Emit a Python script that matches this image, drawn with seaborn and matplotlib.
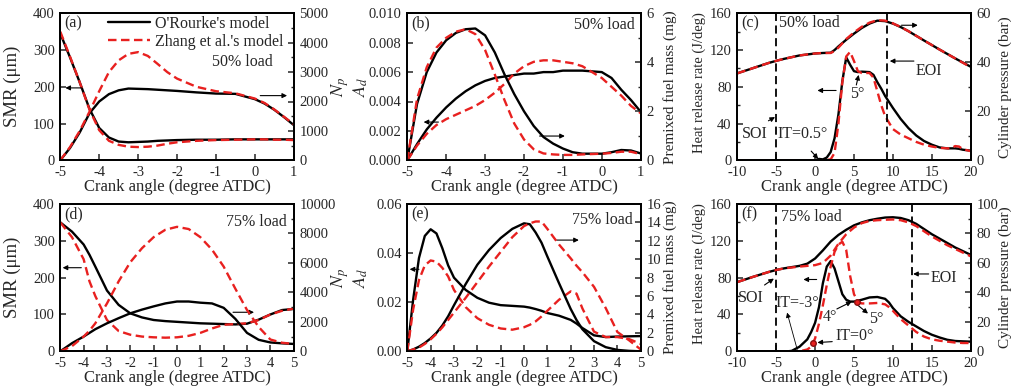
import matplotlib
matplotlib.use("Agg")
import matplotlib.pyplot as plt
import seaborn as sns
from matplotlib.ticker import MultipleLocator, FormatStrFormatter

# ---------------- data ----------------
MODELS = ["O'Rourke's model", "Zhang et al.'s model"]
XLABEL = "Crank angle (degree ATDC)"

# (a) 50% load: SMR (left) and N_p (right)
a_x = [-5, -4.75, -4.5, -4.25, -4, -3.75, -3.5, -3.25, -3, -2.75, -2.5, -2.25, -2,
       -1.5, -1, -0.5, 0, 0.25, 0.5, 0.75, 1]
a_smr_or = [345, 280, 212, 140, 88, 62, 51, 49, 50, 51, 53, 54, 55, 56, 56, 57, 57, 57, 57, 57, 57]
a_smr_zh = [350, 282, 212, 138, 82, 53, 42, 37, 36, 37, 40, 45, 49, 53, 55, 56, 57, 57, 56, 56, 55]
a_np_or = [0, 420, 950, 1600, 2000, 2250, 2380, 2440, 2430, 2420, 2400, 2380, 2360,
           2310, 2270, 2260, 2080, 1930, 1720, 1470, 1200]
a_np_zh = [0, 450, 1000, 1650, 2350, 3000, 3400, 3620, 3680, 3550, 3280, 3000, 2780,
           2500, 2350, 2280, 2100, 1950, 1730, 1480, 1230]

# (b) 50% load: A_d (left) and premixed fuel mass (right)
b_x = [-5, -4.75, -4.5, -4.25, -4, -3.75, -3.5, -3.25, -3, -2.75, -2.5, -2.25, -2,
       -1.75, -1.5, -1.25, -1, -0.75, -0.5, 0, 0.25, 0.5, 0.75, 1]
b_ad_or = [0, 0.0011, 0.0021, 0.0029, 0.0036, 0.0042, 0.0047, 0.0051, 0.0054, 0.0056, 0.0057,
           0.0058, 0.0059, 0.0059, 0.0060, 0.0060, 0.0061, 0.0061, 0.0061, 0.0060, 0.0056,
           0.0048, 0.0041, 0.0033]
b_ad_zh = [0, 0.0010, 0.0018, 0.0024, 0.0028, 0.0031, 0.0034, 0.0037, 0.0041, 0.0046, 0.0052,
           0.0059, 0.0064, 0.0067, 0.0068, 0.0068, 0.0067, 0.0066, 0.0064, 0.0056, 0.0050,
           0.0044, 0.0037, 0.0032]
b_mass_or = [0, 2.3, 3.6, 4.4, 4.9, 5.2, 5.35, 5.38, 5.1, 4.4, 3.5, 2.7, 2.0, 1.4, 0.95,
             0.68, 0.48, 0.33, 0.27, 0.27, 0.33, 0.42, 0.40, 0.28]
b_mass_zh = [0, 2.5, 3.8, 4.6, 5.0, 5.25, 5.35, 5.15, 4.5, 3.5, 2.45, 1.5, 0.85, 0.45, 0.28,
             0.24, 0.22, 0.22, 0.24, 0.27, 0.30, 0.35, 0.35, 0.25]

# (c) 50% load: heat release rate (left) and cylinder pressure (right)
c_xp = [-10, -8, -6, -5, -4, -2, 0, 1, 2, 2.5, 3, 4, 5, 6, 7, 8, 9, 10, 11, 12, 14, 16, 18, 20]
c_p_or = [35.5, 37.6, 39.7, 40.6, 41.4, 42.8, 43.6, 43.8, 43.9, 45.0, 46.5, 49.2, 51.7, 54.0,
          55.8, 57.0, 56.8, 55.8, 54.4, 52.7, 48.9, 45.2, 41.6, 38.2]
c_p_zh = [35.5, 37.6, 39.7, 40.6, 41.4, 42.8, 43.6, 43.8, 43.8, 44.6, 46.0, 49.5, 52.2, 54.5,
          56.2, 57.2, 57.0, 55.9, 54.4, 52.7, 48.9, 45.2, 41.6, 38.0]
c_xh = [-10, -2, 0, 0.5, 1, 1.5, 2, 2.5, 3, 3.5, 4, 4.5, 5, 5.5, 6, 7, 7.5, 8, 8.5, 9, 10,
        11, 12, 13, 14, 15, 16, 17, 17.5, 18, 18.5, 19, 20]
c_hrr_or = [0, 0, 0, 1.5, 1, 3, 9, 24, 50, 86, 112, 104, 97, 96, 96.5, 96, 93, 85, 78, 70, 57,
            45, 35, 27, 21, 17, 14, 13, 13, 13, 12.5, 11.5, 10.5]
c_hrr_zh = [0, 0, 0, 0, 0, 0.5, 1, 8, 40, 85, 113, 118, 108, 97, 95, 95, 90, 75, 60, 48, 34,
            28, 24, 20, 17, 15, 13.5, 13, 13, 15.5, 15, 12, 10]
c_soi, c_eoi = -5, 9.3

# (d) 75% load: SMR (left) and N_p (right)
d_x = [-5, -4.5, -4, -3.75, -3.5, -3, -2.5, -2, -1.5, -1, -0.5, 0, 0.5, 1, 1.5, 2, 2.5, 3,
       3.5, 4, 4.5, 5]
d_smr_or = [350, 325, 290, 262, 230, 165, 126, 103, 92, 85, 82, 80, 78, 76, 75, 74, 73, 75,
            86, 100, 112, 115]
d_smr_zh = [350, 310, 250, 190, 150, 85, 55, 45, 40, 38, 37, 38, 42, 50, 62, 72, 74, 76, 85,
            100, 110, 116]
d_np_or = [0, 550, 1000, 1250, 1500, 1900, 2250, 2580, 2830, 3050, 3250, 3380, 3380, 3300,
           3250, 2950, 2200, 1250, 780, 600, 540, 500]
d_np_zh = [0, 350, 1000, 1400, 1900, 3250, 4750, 6050, 7000, 7750, 8250, 8450, 8300, 7750,
           6900, 5750, 4250, 2800, 1650, 800, 580, 500]

# (e) 75% load: A_d (left) and premixed fuel mass (right)
e_x = [-5, -4.75, -4.5, -4.25, -4, -3.75, -3.5, -3.25, -3, -2.5, -2, -1.5, -1, -0.5, 0, 0.25,
       0.5, 0.75, 1, 1.5, 2, 2.25, 2.5, 3, 3.5, 4, 4.5, 5]
e_ad_or = [0, 0.021, 0.038, 0.047, 0.0497, 0.048, 0.042, 0.035, 0.030, 0.025, 0.0218, 0.0198,
           0.0188, 0.0185, 0.0182, 0.0178, 0.0172, 0.0165, 0.0156, 0.0145, 0.0128, 0.0113,
           0.0095, 0.0065, 0.0058, 0.0060, 0.0061, 0.0062]
e_ad_zh = [0, 0.017, 0.029, 0.035, 0.037, 0.0365, 0.034, 0.0305, 0.025, 0.018, 0.0135, 0.0108,
           0.0093, 0.0088, 0.0098, 0.0108, 0.0122, 0.0142, 0.0165, 0.021, 0.0244, 0.0235,
           0.0175, 0.008, 0.0058, 0.0058, 0.005, 0.003]
e_mass_or = [0, 0.2, 0.5, 0.9, 1.4, 2.0, 2.8, 3.8, 5.0, 7.3, 9.4, 11.0, 12.3, 13.3, 13.9, 13.8,
             12.9, 11.8, 10.3, 7.4, 4.6, 3.4, 2.4, 1.1, 0.45, 0.15, 0.05, 0]
e_mass_zh = [0, 0.2, 0.4, 0.8, 1.3, 1.9, 2.6, 3.4, 4.2, 5.8, 7.5, 9.2, 10.8, 12.4, 13.6, 13.9,
             14.1, 14.1, 13.3, 11.6, 10.1, 9.3, 8.6, 7.0, 4.7, 2.1, 1.2, 0.2]

# (f) 75% load: heat release rate (left) and cylinder pressure (right)
f_xp = [-10, -8, -6, -5, -4, -2, -1, 0, 1, 2, 3, 4, 5, 6, 7, 8, 9, 10, 11, 12, 13, 14, 15,
        16, 17, 18, 19, 20]
f_p_or = [47, 50.5, 53.8, 55.2, 56.3, 58, 59.5, 63, 68.5, 74.5, 79, 82.5, 85.5, 87.5, 89, 90,
          90.8, 91, 90.5, 89, 86.5, 83, 79.5, 76.5, 73.5, 70.5, 68, 65.5]
f_p_zh = [47, 50.5, 53.8, 55.2, 56.3, 57.5, 58, 58.5, 60, 65, 73, 79.5, 84, 87, 88.5, 89, 89.3,
          89.5, 89, 87.5, 85, 81.5, 78, 75, 72, 69.5, 67, 64.5]
f_xh = [-10, -3.5, -3, -2, -1, -0.5, 0, 0.5, 1, 1.5, 2, 2.5, 3, 3.5, 4, 4.5, 5, 5.5, 6, 7, 8,
        9, 9.5, 10, 11, 12, 13, 14, 15, 16, 17, 18, 19, 20]
f_hrr_or = [0, 0, 0.5, 5, 13, 21, 31, 48, 74, 92, 98, 90, 76, 62, 56, 54, 54, 55, 56, 58.5, 59,
            57, 53, 47, 38, 32, 27, 22, 18, 15, 12.5, 11.2, 10.8, 10.5]
f_hrr_zh = [0, 0, 0, 0, 2, 5, 14, 30, 50, 72, 92, 108, 116, 119, 110, 82, 62, 54, 52, 52, 52.5,
            51, 48, 44, 35, 28, 21, 16, 13, 11.5, 10.5, 9.5, 9, 9]
f_soi, f_eoi = -5, 12.4
f_marker_x = [-0.3, 5.35]
f_marker_y = [9, 54]

# ---------------- style ----------------
sns.set_theme(style="ticks")
plt.rcParams["font.family"] = ["Liberation Serif", "DejaVu Serif"]
plt.rcParams["mathtext.fontset"] = "stix"
plt.rcParams["axes.unicode_minus"] = False
plt.rcParams["axes.linewidth"] = 1.3
plt.rcParams["xtick.direction"] = "in"
plt.rcParams["ytick.direction"] = "in"

BLACK = "black"
RED = "#e8201f"
LW = 1.7
TICK_FS = 10.5
XLABEL_FS = 12
TXT_FS = 11.5

fig = plt.figure(figsize=(10.11, 3.90), dpi=100)
W, H = 1011.0, 390.0
COLS = [60.3, 407.3, 737.3]
AW = 233.4
ROWS = [(13.3, 160.3), (204.0, 351.3)]


def make_axes(col, row):
    left = COLS[col]
    top, bottom = ROWS[row]
    ax = fig.add_axes([left / W, 1 - bottom / H, AW / W, (bottom - top) / H])
    ax2 = ax.twinx()
    return ax, ax2


def curve(ax, x, y, model):
    if model == 0:
        sns.lineplot(x=x, y=y, ax=ax, color=BLACK, linewidth=LW, errorbar=None, sort=False,
                     label=MODELS[0])
    else:
        sns.lineplot(x=x, y=y, ax=ax, color=RED, linewidth=LW, errorbar=None, sort=False,
                     linestyle=(0, (3.6, 1.9)), label=MODELS[1])
    if ax.get_legend() is not None:
        ax.get_legend().remove()


def style_axes(ax, ax2, xlim, xstep, ylim, ystep, y2lim, y2step, yminor=None, y2minor=None,
               yfmt=None, ylabel="", y2label="", ylx=-0.2, y2lx=1.15, yfs=11, y2fs=11):
    ax.set_xlim(*xlim)
    ax.xaxis.set_major_locator(MultipleLocator(xstep))
    ax.set_ylim(*ylim)
    ax.yaxis.set_major_locator(MultipleLocator(ystep))
    ax2.set_ylim(*y2lim)
    ax2.yaxis.set_major_locator(MultipleLocator(y2step))
    if yminor:
        ax.yaxis.set_minor_locator(MultipleLocator(yminor))
    if y2minor:
        ax2.yaxis.set_minor_locator(MultipleLocator(y2minor))
    if yfmt:
        ax.yaxis.set_major_formatter(FormatStrFormatter(yfmt))
    ax.tick_params(axis="both", which="major", labelsize=TICK_FS, length=4.5, width=1.1, pad=4,
                   top=False, right=False)
    ax.tick_params(axis="both", which="minor", length=2.5, width=1.0, top=False, right=False)
    ax2.tick_params(axis="y", which="major", labelsize=TICK_FS, length=4.5, width=1.1, pad=4)
    ax2.tick_params(axis="y", which="minor", length=2.5, width=1.0)
    for a in (ax, ax2):
        for s in a.spines.values():
            s.set_color("black")
            s.set_linewidth(1.3)
    ax.set_xlabel(XLABEL, fontsize=XLABEL_FS, labelpad=0)
    ax.set_ylabel(ylabel, fontsize=yfs)
    ax2.set_ylabel(y2label, fontsize=y2fs, rotation=90)
    ax.yaxis.set_label_coords(ylx, 0.5)
    ax2.yaxis.set_label_coords(y2lx, 0.5)
    ax.patch.set_visible(False)


def arrow(ax, tail, head, lw=0.8):
    ax.annotate("", xy=head, xytext=tail,
                arrowprops=dict(arrowstyle="-|>", color="black", lw=lw, mutation_scale=7,
                                shrinkA=0, shrinkB=0))


def tag(ax, s):
    ax.text(0.015, 0.93, s, transform=ax.transAxes, fontsize=TXT_FS, ha="left", va="center")


# ---------------- (a) ----------------
ax, ax2 = make_axes(0, 0)
curve(ax, a_x, a_smr_or, 0)
curve(ax, a_x, a_smr_zh, 1)
curve(ax2, a_x, a_np_or, 0)
curve(ax2, a_x, a_np_zh, 1)
style_axes(ax, ax2, (-5, 1), 1, (0, 400), 100, (0, 5000), 1000, y2minor=500,
           ylabel="SMR (\u03bcm)", y2label=r"$N_p$", ylx=-0.17, y2lx=1.155, yfs=13.5, y2fs=13)
tag(ax, "(a)")
ax.text(0.78, 0.67, "50% load", transform=ax.transAxes, fontsize=TXT_FS, ha="center", va="center")
arrow(ax, (-4.45, 197), (-4.87, 197))
arrow(ax, (0.14, 176), (0.83, 176))
ax2.legend(handles=ax2.lines[:2], labels=MODELS, loc="upper left", bbox_to_anchor=(0.205, 0.985),
           frameon=False, fontsize=TXT_FS, handlelength=2.6, handletextpad=0.35,
           labelspacing=0.15, borderpad=0, borderaxespad=0)

# ---------------- (b) ----------------
ax, ax2 = make_axes(1, 0)
curve(ax, b_x, b_ad_or, 0)
curve(ax, b_x, b_ad_zh, 1)
curve(ax2, b_x, b_mass_or, 0)
curve(ax2, b_x, b_mass_zh, 1)
style_axes(ax, ax2, (-5, 1), 1, (0, 0.010), 0.002, (0, 6), 2, y2minor=1, yfmt="%.3f",
           ylabel=r"$A_d$", y2label="Premixed fuel mass (mg)", ylx=-0.158, y2lx=1.096,
           yfs=13, y2fs=11)
tag(ax, "(b)")
ax.text(0.974, 0.92, "50% load", transform=ax.transAxes, fontsize=TXT_FS, ha="right", va="center")
arrow(ax, (-4.2, 0.0026), (-4.58, 0.0026))
arrow(ax, (-1.6, 0.00165), (-0.95, 0.00165))

# ---------------- (c) ----------------
ax, ax2 = make_axes(2, 0)
curve(ax, c_xh, c_hrr_or, 0)
curve(ax, c_xh, c_hrr_zh, 1)
curve(ax2, c_xp, c_p_or, 0)
curve(ax2, c_xp, c_p_zh, 1)
for xv in (c_soi, c_eoi):
    ax.axvline(xv, color="black", lw=1.3, linestyle=(0, (4.5, 2.5)))
style_axes(ax, ax2, (-10, 20), 5, (0, 160), 40, (0, 60), 20, yminor=20, y2minor=10,
           ylabel="Heat release rate (J/deg)", y2label="Cylinder pressure (bar)",
           ylx=-0.136, y2lx=1.12, yfs=10.5, y2fs=11)
ax.yaxis.label.set_y(0.53)
tag(ax, "(c)")
ax.text(-4.6, 149, "50% load", fontsize=TXT_FS, ha="left", va="center")
ax.text(-9.4, 29, "SOI", fontsize=TXT_FS, ha="left", va="center")
ax.text(-4.8, 29, "IT=0.5\u00b0", fontsize=TXT_FS, ha="left", va="center")
arrow(ax, (-6.0, 43), (-5.15, 47))
arrow(ax, (-0.5, 10), (0.4, 1.5))
arrow(ax, (2.7, 76), (0.3, 76))
ax.text(4.5, 72, "5\u00b0", fontsize=TXT_FS, ha="left", va="center")
arrow(ax, (5.3, 82), (5.6, 93))
arrow(ax, (12.7, 108), (9.6, 108))
ax.text(12.9, 97, "EOI", fontsize=TXT_FS, ha="left", va="center")
arrow(ax, (11.1, 147), (13.2, 147))

# ---------------- (d) ----------------
ax, ax2 = make_axes(0, 1)
curve(ax, d_x, d_smr_or, 0)
curve(ax, d_x, d_smr_zh, 1)
curve(ax2, d_x, d_np_or, 0)
curve(ax2, d_x, d_np_zh, 1)
style_axes(ax, ax2, (-5, 5), 1, (0, 400), 100, (0, 10000), 2000, y2minor=1000,
           ylabel="SMR (\u03bcm)", y2label=r"$N_p$", ylx=-0.17, y2lx=1.155, yfs=13.5, y2fs=13)
tag(ax, "(d)")
ax.text(0.972, 0.876, "75% load", transform=ax.transAxes, fontsize=TXT_FS, ha="right", va="center")
arrow(ax, (-4.1, 227), (-4.9, 227))
arrow(ax, (2.4, 106), (3.3, 106))

# ---------------- (e) ----------------
ax, ax2 = make_axes(1, 1)
curve(ax, e_x, e_ad_or, 0)
curve(ax, e_x, e_ad_zh, 1)
curve(ax2, e_x, e_mass_or, 0)
curve(ax2, e_x, e_mass_zh, 1)
style_axes(ax, ax2, (-5, 5), 1, (0, 0.06), 0.02, (0, 16), 2, yfmt="%.2f",
           ylabel=r"$A_d$", y2label="Premixed fuel mass (mg)", ylx=-0.158, y2lx=1.096,
           yfs=13, y2fs=11)
tag(ax, "(e)")
ax.text(0.967, 0.89, "75% load", transform=ax.transAxes, fontsize=TXT_FS, ha="right", va="center")
arrow(ax, (-4.5, 0.0334), (-4.9, 0.0334))
arrow(ax, (1.4, 0.0453), (2.35, 0.0453))

# ---------------- (f) ----------------
ax, ax2 = make_axes(2, 1)
curve(ax, f_xh, f_hrr_or, 0)
curve(ax, f_xh, f_hrr_zh, 1)
curve(ax2, f_xp, f_p_or, 0)
curve(ax2, f_xp, f_p_zh, 1)
for xv in (f_soi, f_eoi):
    ax.axvline(xv, color="black", lw=1.3, linestyle=(0, (4.5, 2.5)))
ax.plot(f_marker_x, f_marker_y, linestyle="none", marker="o", markersize=4,
        markerfacecolor=RED, markeredgecolor="#8a1010", zorder=5)
style_axes(ax, ax2, (-10, 20), 5, (0, 160), 40, (0, 100), 20, yminor=20, y2minor=10,
           ylabel="Heat release rate (J/deg)", y2label="Cylinder pressure (bar)",
           ylx=-0.136, y2lx=1.12, yfs=10.5, y2fs=11)
ax.yaxis.label.set_y(0.53)
tag(ax, "(f)")
ax.text(-4.4, 146, "75% load", fontsize=TXT_FS, ha="left", va="center")
ax.text(-9.9, 58, "SOI", fontsize=TXT_FS, ha="left", va="center")
arrow(ax, (-6.5, 72), (-5.3, 79))
arrow(ax, (0.2, 78), (-1.5, 78))
ax.text(-5.1, 52, "IT=-3\u00b0", fontsize=TXT_FS, ha="left", va="center")
arrow(ax, (-2.3, 2), (-3.6, 42), lw=0.6)
ax.text(1.0, 37, "4\u00b0", fontsize=TXT_FS, ha="left", va="center")
arrow(ax, (2.8, 46), (4.7, 54))
ax.text(7.0, 35, "5\u00b0", fontsize=TXT_FS, ha="left", va="center")
arrow(ax, (5.5, 50), (6.8, 41))
ax.text(2.6, 17, "IT=0\u00b0", fontsize=TXT_FS, ha="left", va="center")
arrow(ax, (2.2, 10.5), (0.3, 9.5))
arrow(ax, (14.6, 84), (12.6, 84))
ax.text(14.8, 80, "EOI", fontsize=TXT_FS, ha="left", va="center")

fig.savefig("out.png", dpi=100)
